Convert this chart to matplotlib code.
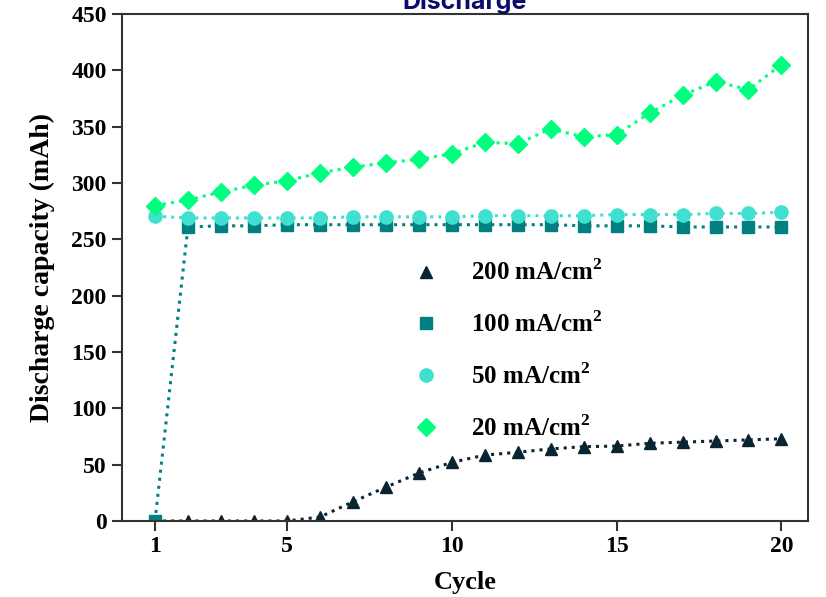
import numpy as np
import matplotlib
matplotlib.use('Agg')
import matplotlib.pyplot as plt
from matplotlib.lines import Line2D

plt.rcParams['font.family'] = 'Liberation Serif'
plt.rcParams['font.weight'] = 'bold'
plt.rcParams['mathtext.fontset'] = 'custom'
plt.rcParams['mathtext.rm'] = 'Liberation Serif:bold'
plt.rcParams['mathtext.bf'] = 'Liberation Serif:bold'

cycles = list(range(1, 21))
cap_200 = [0, 0, 0, 0, 0, 3.5, 17, 30, 42.5, 52, 58.5, 61, 64, 66, 66.5, 69, 70, 71, 72, 73]
cap_100 = [0, 261, 262, 262, 263, 263, 263, 263, 263, 263, 263, 263, 263, 262, 262, 262, 261, 261, 261, 261]
cap_50 = [270.5, 269, 269, 269, 269, 269, 270, 270, 270, 270, 271, 271, 271, 271, 272, 272, 272, 273, 273, 274]
cap_20 = [280, 285, 292, 298, 302, 309, 314, 318, 321, 326, 336, 335, 348, 341, 343, 362, 378, 390, 383, 405]

labels = ['200 mA/cm$^2$', '100 mA/cm$^2$', '50 mA/cm$^2$', '20 mA/cm$^2$']
colors = ['#0a2433', '#008080', '#40e0d0', '#00ff7f']
markers = ['^', 's', 'o', 'D']
sizes = [8.5, 8.5, 9.5, 9]

fig = plt.figure(figsize=(8.26, 5.97), dpi=100)
ax = fig.add_axes([0.1477, 0.1273, 0.8303, 0.8492])

handles = []
for y, c, m, ms, lab in zip([cap_200, cap_100, cap_50, cap_20], colors, markers, sizes, labels):
    ax.plot(cycles, y, linestyle=':', linewidth=2.2, color=c, marker=m, markersize=ms)
    handles.append(Line2D([], [], linestyle='none', marker=m, color=c, markersize=ms, label=lab))

ax.set_xlim(0, 20.8)
ax.set_ylim(0, 450)
ax.set_xticks([1, 5, 10, 15, 20])
ax.set_yticks(np.arange(0, 451, 50))
ax.tick_params(labelsize=17, length=7, width=1.5, color='#333333', pad=4)
for s in ax.spines.values():
    s.set_linewidth(1.5)
    s.set_color('#333333')

ax.set_xlabel('Cycle', fontsize=19, fontweight='bold', labelpad=10)
ax.set_ylabel('Discharge capacity (mAh)', fontsize=20, fontweight='bold', labelpad=12)
ax.set_title('Discharge', fontsize=18, fontweight='bold', color='#0b0b6b', family='Inter', pad=3)

ax.legend(handles=handles, loc='upper left', bbox_to_anchor=(0.388, 0.56), frameon=False,
          fontsize=18, labelspacing=1.05, handletextpad=1.2, handlelength=1.2)

fig.savefig('out.png', dpi=100)
